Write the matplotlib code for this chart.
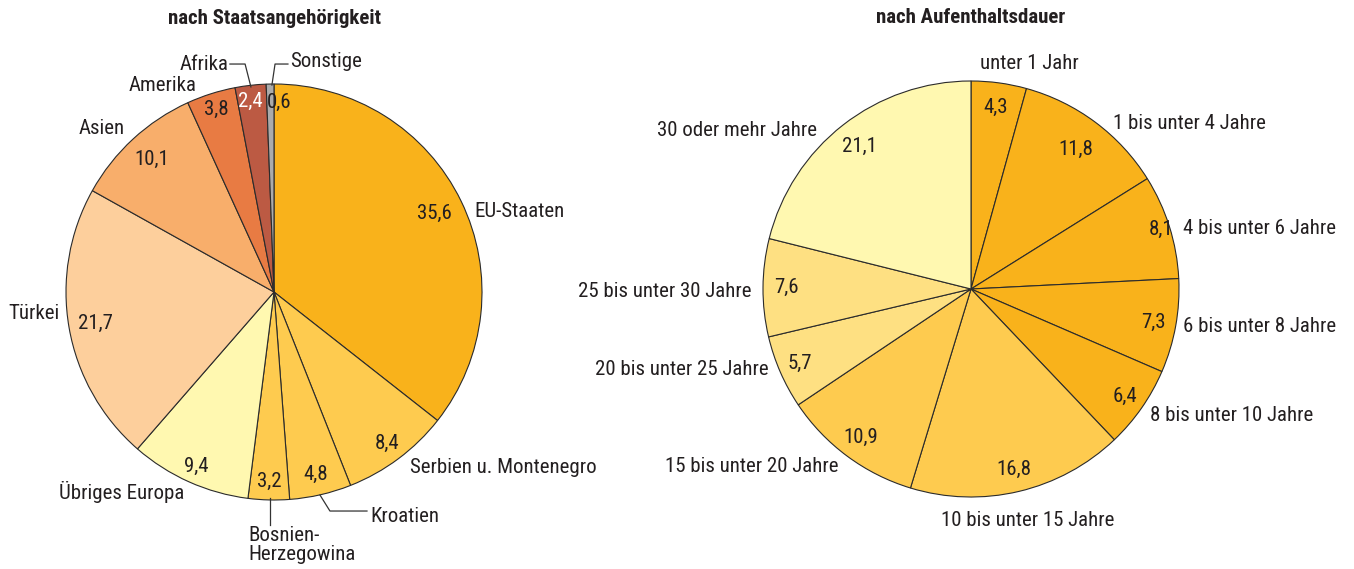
import numpy as np
import matplotlib
matplotlib.use("Agg")
import matplotlib.pyplot as plt

plt.rcParams['font.family'] = ['Roboto Condensed', 'DejaVu Sans Condensed', 'Liberation Sans Narrow',
                               'Liberation Sans', 'DejaVu Sans']

# --- data -------------------------------------------------------------
nat_labels = ["EU-Staaten", "Serbien u. Montenegro", "Kroatien", "Bosnien-\nHerzegowina",
              "Übriges Europa", "Türkei", "Asien", "Amerika", "Afrika", "Sonstige"]
nat_values = [35.6, 8.4, 4.8, 3.2, 9.4, 21.7, 10.1, 3.8, 2.4, 0.6]

dur_labels = ["unter 1 Jahr", "1 bis unter 4 Jahre", "4 bis unter 6 Jahre", "6 bis unter 8 Jahre",
              "8 bis unter 10 Jahre", "10 bis unter 15 Jahre", "15 bis unter 20 Jahre",
              "20 bis unter 25 Jahre", "25 bis unter 30 Jahre", "30 oder mehr Jahre"]
dur_values = [4.3, 11.8, 8.1, 7.3, 6.4, 16.8, 10.9, 5.7, 7.6, 21.1]

# --- styles -----------------------------------------------------------
C_DARK = "#F9B21B"
C_MID = "#FECB4F"
C_LIGHT = "#FEE082"
C_PALE = "#FFF8B0"
nat_colors = [C_DARK, C_MID, C_MID, C_MID, C_PALE, "#FDCF9C", "#F8AE6B", "#E87B43", "#BC5A43", "#ABABAB"]
dur_colors = [C_DARK] * 5 + [C_MID, C_MID, C_LIGHT, C_LIGHT, C_PALE]
TXT = "#231F20"
FS = 15
FS_TITLE = 15

W, H = 1354, 569
R = 208


def fmt(v):
    return f"{v:.1f}".replace(".", ",")


def make_axes(fig, cx, cy):
    return fig.add_axes([(cx - R) / W, (H - cy - R) / H, 2 * R / W, 2 * R / H])


def draw_pie(ax, values, colors, radii, val_colors=None, nudges=None):
    wedges, _ = ax.pie(values, colors=colors, startangle=90, counterclock=False, radius=1,
                       wedgeprops=dict(edgecolor="#2b2b2b", linewidth=0.8))
    # pie() resets the limits, so fix them afterwards
    ax.set_xlim(-1, 1)
    ax.set_ylim(-1, 1)
    ax.set_aspect("equal")
    ax.axis("off")
    for i, (w, v) in enumerate(zip(wedges, values)):
        ang = np.deg2rad((w.theta1 + w.theta2) / 2)
        x, y = radii[i] * np.cos(ang), radii[i] * np.sin(ang)
        if nudges and i in nudges:
            x += nudges[i]
        col = val_colors[i] if val_colors else TXT
        ax.text(x, y, fmt(v), ha="center", va="center", fontsize=FS, color=col)


fig = plt.figure(figsize=(W / 100, H / 100), dpi=100)

# ---------------- left: nach Staatsangehörigkeit ----------------------
axl = make_axes(fig, 274, 292)
val_cols = [TXT] * 8 + ["white", TXT]
draw_pie(axl, nat_values, nat_colors, [0.86, 0.91, 0.9, 0.91, 0.92, 0.87, 0.87, 0.92, 0.92, 0.91],
         val_cols, nudges={9: 0.04, 8: -0.01})

nat_pos = [(0.962, 0.385, "left"), (0.654, -0.846, "left"), (0.462, -1.077, "left"),
           (-0.125, -1.216, "left"), (-0.731, -0.962, "center"), (-1.029, -0.101, "right"),
           (-0.827, 0.788, "center"), (-0.538, 0.995, "center"), (-0.216, 1.096, "right"),
           (0.077, 1.106, "left")]
for lab, (x, y, ha) in zip(nat_labels, nat_pos):
    axl.text(x, y, lab, ha=ha, va="center", fontsize=FS, color=TXT, linespacing=1.0,
             clip_on=False)

leaders = [[(-0.212, 1.096), (-0.139, 1.096), (-0.111, 0.986)],
           [(-0.01, 0.995), (0.005, 1.096), (0.067, 1.096)],
           [(-0.019, -0.99), (-0.019, -1.12)],
           [(0.221, -0.976), (0.269, -1.053), (0.447, -1.053)]]
for pts in leaders:
    xs, ys = zip(*pts)
    axl.plot(xs, ys, color="#333333", lw=0.9, clip_on=False)

axl.text(0, 1.313, "nach Staatsangehörigkeit", ha="center", va="center", fontsize=FS_TITLE,
         fontweight="bold", color=TXT, clip_on=False)

# ---------------- right: nach Aufenthaltsdauer ------------------------
axr = make_axes(fig, 971, 289)
draw_pie(axr, dur_values, dur_colors, [0.88, 0.84, 0.96, 0.89, 0.9, 0.89, 0.89, 0.9, 0.885, 0.87])

dur_pos = [(0.279, 1.082, "center"), (0.683, 0.798, "left"), (1.019, 0.293, "left"),
           (1.019, -0.178, "left"), (0.861, -0.606, "left"), (0.274, -1.115, "center"),
           (-0.639, -0.851, "right"), (-0.971, -0.389, "right"), (-1.053, -0.014, "right"),
           (-0.740, 0.760, "right")]
for lab, (x, y, ha) in zip(dur_labels, dur_pos):
    axr.text(x, y, lab, ha=ha, va="center", fontsize=FS, color=TXT, clip_on=False)

axr.text(0, 1.305, "nach Aufenthaltsdauer", ha="center", va="center", fontsize=FS_TITLE,
         fontweight="bold", color=TXT, clip_on=False)

fig.savefig("out.png", dpi=100, facecolor="white")
